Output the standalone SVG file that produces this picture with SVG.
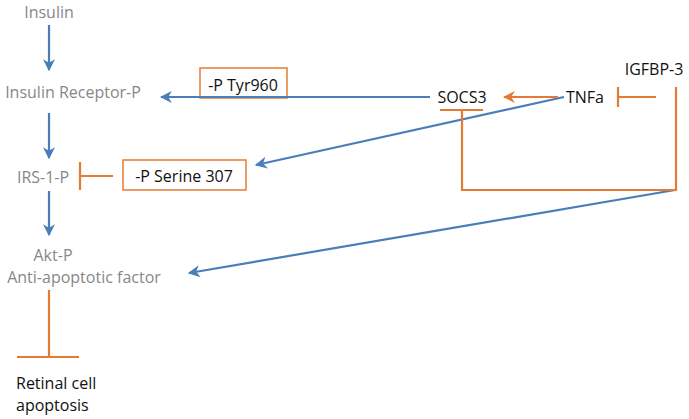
<svg xmlns="http://www.w3.org/2000/svg" width="689" height="419" viewBox="0 0 689 419">
<style>
text{font-family:"Open Sans","Liberation Sans",sans-serif;font-size:16px;dominant-baseline:central}
.g{fill:#878787}
.k{fill:#111}
.b{stroke:#4a7ebb;stroke-width:2.2;fill:none}
.o{stroke:#e47b35;stroke-width:2.2;fill:none}
.box{fill:#fff;stroke:#e47b35;stroke-width:1.5}
</style>
<defs>
<marker id="ab" viewBox="0 0 10 10" refX="9" refY="5" markerWidth="5.5" markerHeight="5.5" orient="auto" markerUnits="strokeWidth">
<path d="M0,0 L10,5 L0,10 L3,5 Z" fill="#4a7ebb"/>
</marker>
<marker id="ao" viewBox="0 0 10 10" refX="9" refY="5" markerWidth="5.5" markerHeight="5.5" orient="auto" markerUnits="strokeWidth">
<path d="M0,0 L10,5 L0,10 L3,5 Z" fill="#e47b35"/>
</marker>
</defs>
<g id="tyr960"><rect class="box" x="200" y="68" width="87" height="30"/><text class="k" x="243" y="85" text-anchor="middle">-P Tyr960</text></g>
<g id="ser307"><rect class="box" x="123" y="160" width="123" height="30"/><text class="k" x="184" y="176" text-anchor="middle">-P Serine 307</text></g>
<g id="connectors">
<line class="b" x1="49" y1="25" x2="49" y2="70" marker-end="url(#ab)"/>
<line class="b" x1="49" y1="113" x2="49" y2="158" marker-end="url(#ab)"/>
<line class="b" x1="49" y1="191" x2="49" y2="235" marker-end="url(#ab)"/>
<line class="b" x1="430" y1="97" x2="161" y2="97" marker-end="url(#ab)"/>
<line class="b" x1="564" y1="97" x2="256" y2="165" marker-end="url(#ab)"/>
<line class="b" x1="675" y1="190" x2="189" y2="273" marker-end="url(#ab)"/>
<line class="o" x1="558" y1="97" x2="504" y2="97" marker-end="url(#ao)"/>
<line class="o" x1="656" y1="97" x2="618" y2="97"/>
<line class="o" x1="618" y1="87" x2="618" y2="107"/>
<path class="o" d="M676,87 V190 H462 V110"/>
<line class="o" x1="440" y1="110" x2="483" y2="110"/>
<line class="o" x1="113" y1="176" x2="80" y2="176"/>
<line class="o" x1="80" y1="162" x2="80" y2="190"/>
<line class="o" x1="49" y1="290" x2="49" y2="357"/>
<line class="o" x1="17" y1="357" x2="79" y2="357"/>
</g>
<g id="insulin"><text class="g" x="49" y="12" text-anchor="middle">Insulin</text></g>
<g id="ir"><text class="g" x="73" y="92" text-anchor="middle">Insulin Receptor-P</text></g>
<g id="irs"><text class="g" x="43" y="177" text-anchor="middle">IRS-1-P</text></g>
<g id="akt"><text class="g" x="53" y="255" text-anchor="middle">Akt-P</text><text class="g" x="84" y="277" text-anchor="middle">Anti-apoptotic factor</text></g>
<g id="retinal"><text class="k" x="16" y="383">Retinal cell</text><text class="k" x="16" y="405">apoptosis</text></g>
<g id="socs3"><text class="k" x="462" y="97" text-anchor="middle">SOCS3</text></g>
<g id="tnfa"><text class="k" x="585" y="97" text-anchor="middle">TNFa</text></g>
<g id="igfbp3"><text class="k" x="654" y="69" text-anchor="middle">IGFBP-3</text></g>
</svg>
